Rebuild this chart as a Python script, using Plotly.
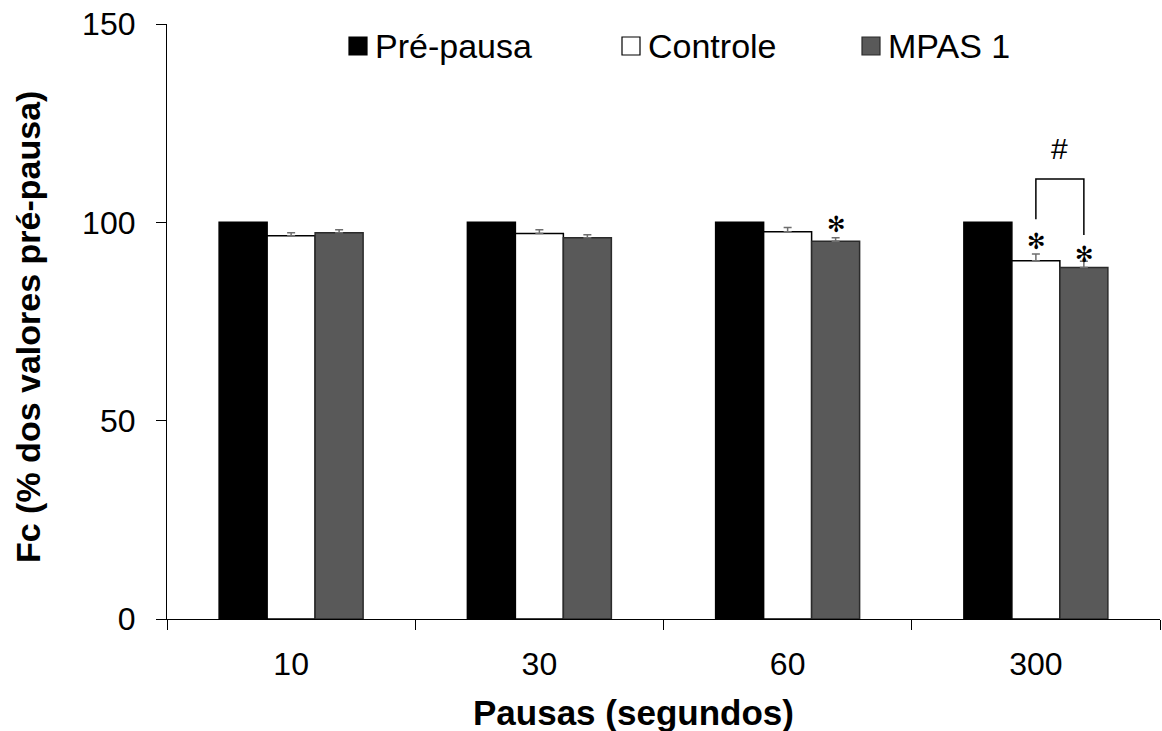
import plotly.graph_objects as go

# Pause durations (s) and series
pausas = ["10", "30", "60", "300"]
series_names = ["Pré-pausa", "Controle", "MPAS 1"]
pre_pausa = [100, 100, 100, 100]
controle = [96.6, 97.2, 97.6, 90.3]
mpas1 = [97.4, 96.1, 95.2, 88.6]
controle_err = [0.8, 0.9, 1.1, 1.7]
mpas1_err = [0.7, 0.8, 0.9, 1.6]

fills = ["#000000", "#ffffff", "#595959"]
outlines = ["#000000", "#000000", "#2b2b2b"]

# plot area in pixels
W, H = 1162, 731
L, R, T, B = 167, 2, 24, 112
YMAX = 150

fig = go.Figure()
values = [pre_pausa, controle, mpas1]
errors = [None, controle_err, mpas1_err]
for name, vals, err, fc, lc in zip(series_names, values, errors, fills, outlines):
    fig.add_trace(go.Bar(
        x=pausas, y=vals, name=name,
        marker=dict(color=fc, line=dict(color=lc, width=1.5)),
        error_y=(dict(type="data", array=err, symmetric=False, arrayminus=[0] * len(err),
                      color="#6e6e6e", thickness=1.5, width=4, visible=True)
                 if err is not None else dict(visible=False)),
        showlegend=False,
    ))

bargap = 0.42
bar_w = (1 - bargap) / 3  # width of one bar in category units

# significance marks: (category, series index, pixel lift above the error cap)
stars = [("60", 2, 13), ("300", 1, 13), ("300", 2, 7)]
anns = []
for cat, si, lift in stars:
    i = pausas.index(cat)
    top = values[si][i] + errors[si][i]
    anns.append(dict(x=i + (si - 1) * bar_w, y=top, xref="x", yref="y", text="✻",
                     showarrow=False, yanchor="middle", yshift=lift,
                     font=dict(family="DejaVu Sans", size=22, color="black")))

# bracket between Controle and MPAS 1 at 300 s
i300 = pausas.index("300")
xl, xr = i300, i300 + bar_w
y_top, y_left, y_right = 110.9, 100.8, 96.8
fig.add_shape(type="path", xref="x", yref="y",
              path=f"M {xl},{y_left} L {xl},{y_top} L {xr},{y_top} L {xr},{y_right}",
              line=dict(color="black", width=1.5))
anns.append(dict(x=(xl + xr) / 2, y=y_top, xref="x", yref="y", text="#", showarrow=False,
                 yanchor="middle", yshift=31,
                 font=dict(family="Liberation Sans", size=30, color="black")))

# legend drawn along the top
leg_x = [349, 622, 862]
leg_y = 46
sq = 18
pw, ph = W - L - R, H - T - B
for name, fc, lc, lx in zip(series_names, fills, outlines, leg_x):
    fig.add_shape(type="rect", xref="paper", yref="paper",
                  x0=(lx - L) / pw, x1=(lx + sq - L) / pw,
                  y0=(H - B - (leg_y + sq / 2)) / ph, y1=(H - B - (leg_y - sq / 2)) / ph,
                  fillcolor=fc, line=dict(color=lc, width=1.2))
    anns.append(dict(x=(lx + sq + 6 - L) / pw, y=(H - B - leg_y) / ph, xref="paper", yref="paper",
                     text=name, showarrow=False, xanchor="left", yanchor="middle",
                     font=dict(family="Liberation Sans", size=34, color="black")))

# axis titles
anns.append(dict(x=(633 - L) / pw, y=(H - B - 713) / ph, xref="paper", yref="paper",
                 text="<b>Pausas (segundos)</b>", showarrow=False, yanchor="middle",
                 font=dict(family="Liberation Sans", size=35, color="black")))
anns.append(dict(x=(28 - L) / pw, y=(H - B - 327) / ph, xref="paper", yref="paper",
                 text="<b>Fc (% dos valores pré-pausa)</b>", showarrow=False, textangle=-90,
                 xanchor="center", yanchor="middle",
                 font=dict(family="Liberation Sans", size=34, color="black")))

fig.update_layout(
    width=W, height=H,
    margin=dict(l=L, r=R, t=T, b=B, pad=0),
    paper_bgcolor="white", plot_bgcolor="white",
    barmode="group", bargap=bargap, bargroupgap=0,
    annotations=anns,
    font=dict(family="Liberation Sans", color="black"),
    xaxis=dict(type="category", range=[-0.5, len(pausas) - 0.5], showline=True,
               linecolor="black", linewidth=1.2,
               ticks="outside", ticklen=10, tickcolor="black", tickwidth=1.2,
               tickson="boundaries", tickfont=dict(size=32), ticklabelstandoff=16,
               tickangle=0, showgrid=False, zeroline=False),
    yaxis=dict(range=[0, YMAX], tickvals=[0, 50, 100, 150], showline=True,
               linecolor="black", linewidth=1.2, ticks="outside", ticklen=10,
               tickcolor="black", tickwidth=1.2, tickfont=dict(size=32),
               ticklabelstandoff=14, showgrid=False, zeroline=False),
)

fig.write_html("out.html")
